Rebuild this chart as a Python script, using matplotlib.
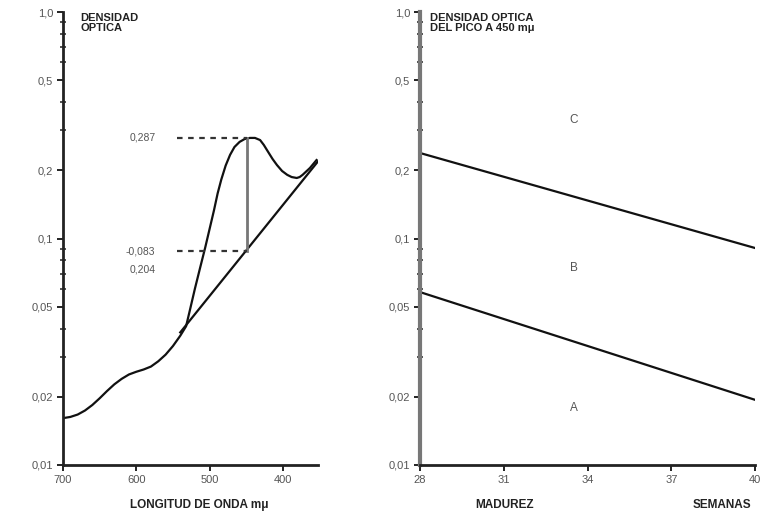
import matplotlib
matplotlib.use("Agg")
import matplotlib.pyplot as plt
from matplotlib.ticker import FixedLocator, NullFormatter

plt.rcParams['font.family'] = ['Liberation Sans', 'DejaVu Sans']

# ---- Left panel: absorption spectrum ----
wl = [700, 690, 680, 670, 660, 650, 640, 630, 620, 610, 600, 590, 580, 570,
      560, 550, 540, 532, 527, 520, 513, 506, 500, 494, 489, 484, 478, 472,
      466, 459, 452, 445, 438, 431, 426, 420, 414, 408, 401, 394, 388, 381,
      377, 373, 363, 354]
od = [0.0161, 0.0163, 0.0167, 0.0174, 0.0184, 0.0197, 0.0212, 0.0227, 0.0240,
      0.0251, 0.0258, 0.0264, 0.0272, 0.0287, 0.0307, 0.0335, 0.0372, 0.0410,
      0.048, 0.060, 0.074, 0.091, 0.110, 0.133, 0.158, 0.182, 0.210,
      0.234, 0.2535, 0.267, 0.275, 0.278, 0.278, 0.272, 0.259, 0.241, 0.2244,
      0.211, 0.1986, 0.191, 0.1868, 0.185, 0.1868, 0.191, 0.2048, 0.222]
base_wl = [540, 352]
base_od = [0.0385, 0.219]
peak_wl = 449
peak_top = 0.278
peak_base = 0.088
lbl_top = "0,287"
lbl_base = "-0,083"
lbl_diff = "0,204"

# ---- Right panel: peak OD vs maturity ----
weeks = [28, 40]
line_upper = [0.2385, 0.0908]
line_lower = [0.058, 0.0194]
zone_labels = ["C", "B", "A"]
zone_y = [0.333, 0.0741, 0.0179]
zone_x = 33.5

yticks = [0.01, 0.02, 0.05, 0.1, 0.2, 0.5, 1.0]
yticklabels = ["0,01", "0,02", "0,05", "0,1", "0,2", "0,5", "1,0"]
yminor = [0.03, 0.04, 0.06, 0.07, 0.08, 0.09, 0.3, 0.4, 0.6, 0.7, 0.8, 0.9]
xticks_l = [700, 600, 500, 400]
xticks_r = [28, 31, 34, 37, 40]

W, H = 771, 514
fig = plt.figure(figsize=(W / 100, H / 100), dpi=100)

def rect(x0, x1, ytop, ybot):
    return [x0 / W, 1 - ybot / H, (x1 - x0) / W, (ybot - ytop) / H]

axL = fig.add_axes(rect(63, 318, 12, 465))
axR = fig.add_axes(rect(420, 755, 12, 465))

tick_col = '#555555'
for ax in (axL, axR):
    ax.set_yscale('log')
    ax.set_ylim(0.01, 1.0)
    ax.set_yticks(yticks)
    ax.set_yticklabels(yticklabels)
    ax.yaxis.set_minor_locator(FixedLocator(yminor))
    ax.yaxis.set_minor_formatter(NullFormatter())
    for s in ('top', 'right'):
        ax.spines[s].set_visible(False)
    ax.spines['bottom'].set_linewidth(2.0)
    ax.spines['bottom'].set_color('#222222')
    ax.tick_params(axis='both', which='major', labelsize=8, labelcolor=tick_col,
                   color='#222222', length=4, width=1.4, direction='out', pad=3)
    ax.tick_params(axis='y', which='minor', length=4, width=1.2,
                   direction='inout', color='#333333')
    ax.patch.set_alpha(0)

axL.spines['left'].set_linewidth(2.0)
axL.spines['left'].set_color('#222222')
axR.spines['left'].set_linewidth(3.0)
axR.spines['left'].set_color('#777777')

# Left panel drawing
axL.set_xlim(700, 352)
axL.set_xticks(xticks_l)
axL.plot(wl, od, color='#111111', lw=1.6, solid_joinstyle='round')
axL.plot(base_wl, base_od, color='#111111', lw=1.6)
axL.plot([peak_wl, peak_wl], [peak_base, peak_top], color='#777777', lw=2.0)
axL.plot([544, peak_wl], [peak_top, peak_top], color='#333333', lw=1.6,
         linestyle=(0, (2.5, 2.5)))
axL.plot([544, peak_wl], [peak_base, peak_base], color='#333333', lw=1.6,
         linestyle=(0, (2.5, 2.5)))
axL.text(574, peak_top, lbl_top, ha='right', va='center', fontsize=7.5, color=tick_col)
axL.text(574, peak_base, lbl_base, ha='right', va='center', fontsize=7.5, color=tick_col)
axL.text(574, 0.0733, lbl_diff, ha='right', va='center', fontsize=7.5, color=tick_col)
axL.text(0.067, 0.997, "DENSIDAD\nOPTICA", transform=axL.transAxes, ha='left', va='top',
         fontsize=8, fontweight='bold', color='#222222', linespacing=0.95)
fig.text(199 / W, 1 - 505 / H, "LONGITUD DE ONDA mμ", ha='center', va='center',
         fontsize=8.5, fontweight='bold', color='#222222')

# Right panel drawing
axR.set_xlim(28, 40)
axR.set_xticks(xticks_r)
axR.plot(weeks, line_upper, color='#111111', lw=1.6)
axR.plot(weeks, line_lower, color='#111111', lw=1.6)
for lab, yv in zip(zone_labels, zone_y):
    axR.text(zone_x, yv, lab, ha='center', va='center', fontsize=8.5, color='#555555')
axR.text(0.03, 0.997, "DENSIDAD OPTICA\nDEL PICO A 450 mμ", transform=axR.transAxes,
         ha='left', va='top', fontsize=8, fontweight='bold', color='#222222',
         linespacing=0.95)
fig.text(505 / W, 1 - 505 / H, "MADUREZ", ha='center', va='center',
         fontsize=8.5, fontweight='bold', color='#222222')
fig.text(722 / W, 1 - 505 / H, "SEMANAS", ha='center', va='center',
         fontsize=8.5, fontweight='bold', color='#222222')

fig.savefig("out.png", dpi=100)
